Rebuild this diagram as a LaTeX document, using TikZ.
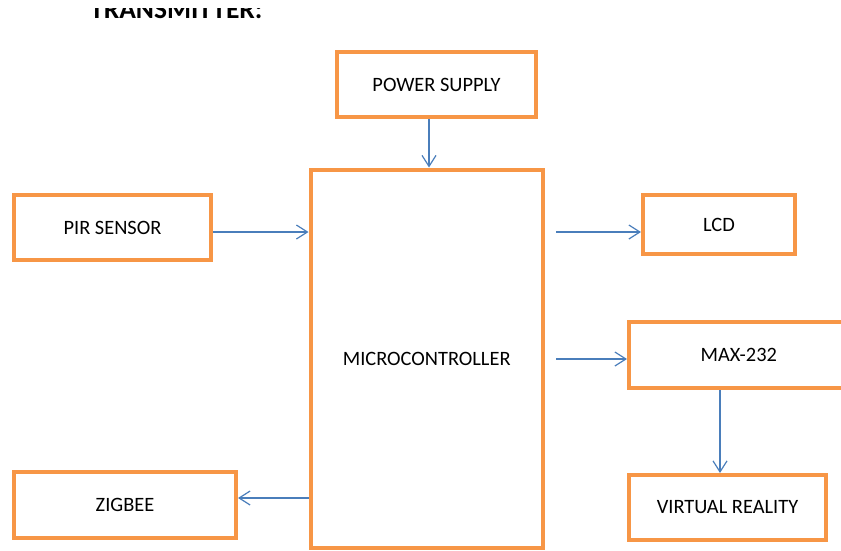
\documentclass[tikz,border=0pt]{standalone}
\usepackage{fontspec}
\setmainfont{Carlito}
\usetikzlibrary{arrows.meta}
\definecolor{boxorange}{HTML}{F79646}
\definecolor{arrowblue}{HTML}{4A7EBB}
\begin{document}
\begin{tikzpicture}[x=1pt,y=-1pt,
  blk/.style={draw=boxorange, line width=4pt, fill=white, inner sep=0pt,
    font=\fontsize{20.4}{24}\selectfont, text=black},
  arr/.style={draw=arrowblue, line width=1.2pt, -{Straight Barb[length=11pt,width=14pt,line width=1.2pt]}}]
\useasboundingbox (0,0) rectangle (841,550);
\clip (0,0) rectangle (841,550);
\fill[white] (0,0) rectangle (841,550);
\begin{scope}
  \clip (0,8) rectangle (841,40);
  \node[anchor=base west, inner sep=0pt, font=\bfseries\fontsize{27.5}{32}\selectfont] (title) at (90,18) {TRANSMITTER:};
\end{scope}
\node[blk, minimum width=199pt, minimum height=65pt] (power) at (436.5,84.5) {POWER SUPPLY};
\node[blk, minimum width=232.5pt, minimum height=378pt] (micro) at (426.75,358.5) {MICROCONTROLLER};
\node[blk, minimum width=197pt, minimum height=65pt] (pir) at (112.5,227.5) {PIR SENSOR};
\node[blk, minimum width=152pt, minimum height=59pt] (lcd) at (719,224.5) {LCD};
\node[blk, minimum width=219.6pt, minimum height=66pt] (max) at (738.8,355) {MAX-232};
\node[blk, minimum width=197pt, minimum height=65pt] (vr) at (727.5,507.5) {VIRTUAL REALITY};
\node[blk, minimum width=222pt, minimum height=66pt] (zig) at (125,505) {ZIGBEE};
\coordinate (xp) at (429,0);
\coordinate (xv) at (720,0);
\coordinate (ya) at (0,232);
\coordinate (yb) at (0,359);
\coordinate (yc) at (0,498);
\draw[arr] (power.south -| xp) -- (micro.north -| xp);
\draw[arr] (pir.east |- ya) -- (micro.west |- ya);
\draw[arr, shorten <=11pt] (micro.east |- ya) -- (lcd.west |- ya);
\draw[arr, shorten <=11pt] (micro.east |- yb) -- (max.west |- yb);
\draw[arr] (max.south -| xv) -- (vr.north -| xv);
\draw[arr] (micro.west |- yc) -- (zig.east |- yc);
\end{tikzpicture}
\end{document}
